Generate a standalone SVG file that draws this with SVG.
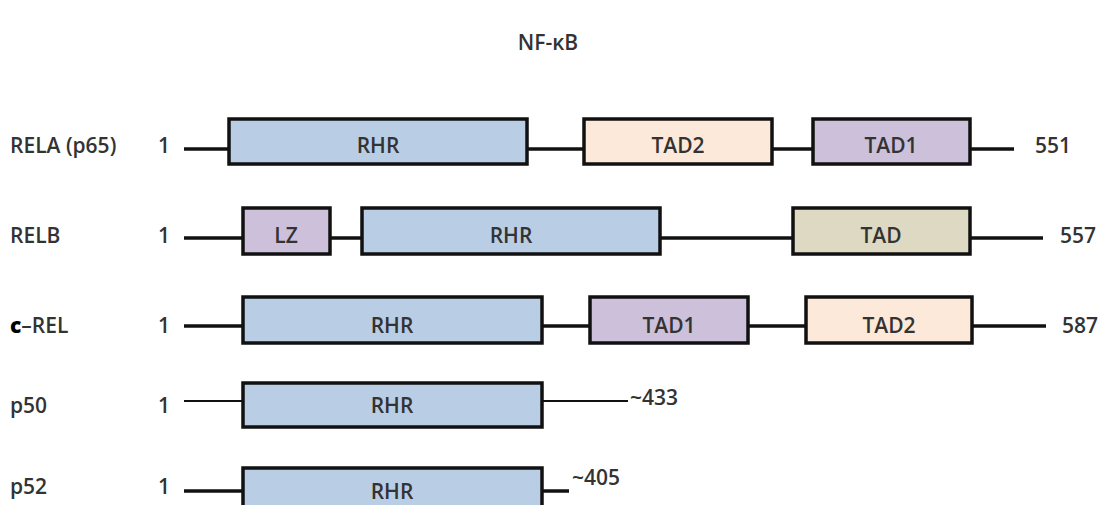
<svg xmlns="http://www.w3.org/2000/svg" width="1116" height="505" viewBox="0 0 1116 505">
<style>
.t{font-family:"Open Sans","Liberation Sans",sans-serif;font-size:21px;font-weight:600;fill:#333}
.c{text-anchor:middle}
.box{stroke:#111;stroke-width:3.5}
.ln{stroke:#111;stroke-width:3.5}
.thin{stroke:#111;stroke-width:2}
.rhr{fill:#B9CDE5}.peach{fill:#FDE9D9}.lav{fill:#CCC0DA}.tan{fill:#DDD9C3}
</style>
<rect width="1116" height="505" fill="#fff"/>
<text class="t c" x="548" y="50" font-size="20">NF-κB</text>
<g id="connectors">
<line class="ln" x1="184" y1="149" x2="1014" y2="149"/>
<line class="ln" x1="184" y1="238" x2="1043" y2="238"/>
<line class="ln" x1="184" y1="326" x2="1046" y2="326"/>
<line class="thin" x1="184" y1="401" x2="628" y2="401"/>
<line class="ln" x1="184" y1="491" x2="569" y2="491"/>
</g>
<g id="rela">
<text class="t" x="10" y="153">RELA (p65)</text>
<text class="t" x="158" y="153">1</text>
<rect class="box rhr" x="229" y="119" width="298" height="45"/>
<text class="t c" x="378" y="153">RHR</text>
<rect class="box peach" x="584" y="119" width="188" height="45"/>
<text class="t c" x="678" y="153">TAD2</text>
<rect class="box lav" x="813" y="119" width="157" height="45"/>
<text class="t c" x="891" y="153">TAD1</text>
<text class="t" x="1035" y="153">551</text>
</g>
<g id="relb">
<text class="t" x="10" y="243">RELB</text>
<text class="t" x="158" y="243">1</text>
<rect class="box lav" x="243" y="208" width="87" height="46"/>
<text class="t c" x="286" y="243">LZ</text>
<rect class="box rhr" x="362" y="208" width="298" height="46"/>
<text class="t c" x="511" y="243">RHR</text>
<rect class="box tan" x="793" y="208" width="177" height="46"/>
<text class="t c" x="881" y="243">TAD</text>
<text class="t" x="1060" y="243">557</text>
</g>
<g id="crel">
<text class="t" x="10" y="333"><tspan font-weight="800" fill="#000">c</tspan>–REL</text>
<text class="t" x="158" y="333">1</text>
<rect class="box rhr" x="243" y="297" width="299" height="46"/>
<text class="t c" x="392" y="333">RHR</text>
<rect class="box lav" x="590" y="297" width="158" height="46"/>
<text class="t c" x="669" y="333">TAD1</text>
<rect class="box peach" x="806" y="297" width="166" height="46"/>
<text class="t c" x="889" y="333">TAD2</text>
<text class="t" x="1062" y="333">587</text>
</g>
<g id="p50">
<text class="t" x="10" y="413">p50</text>
<text class="t" x="158" y="413">1</text>
<rect class="box rhr" x="243" y="383" width="299" height="44"/>
<text class="t c" x="392" y="413">RHR</text>
<text class="t" x="630" y="405">~433</text>
</g>
<g id="p52">
<text class="t" x="10" y="494">p52</text>
<text class="t" x="158" y="494">1</text>
<rect class="box rhr" x="243" y="468" width="299" height="46"/>
<text class="t c" x="392" y="499">RHR</text>
<text class="t" x="572" y="485">~405</text>
</g>
</svg>
